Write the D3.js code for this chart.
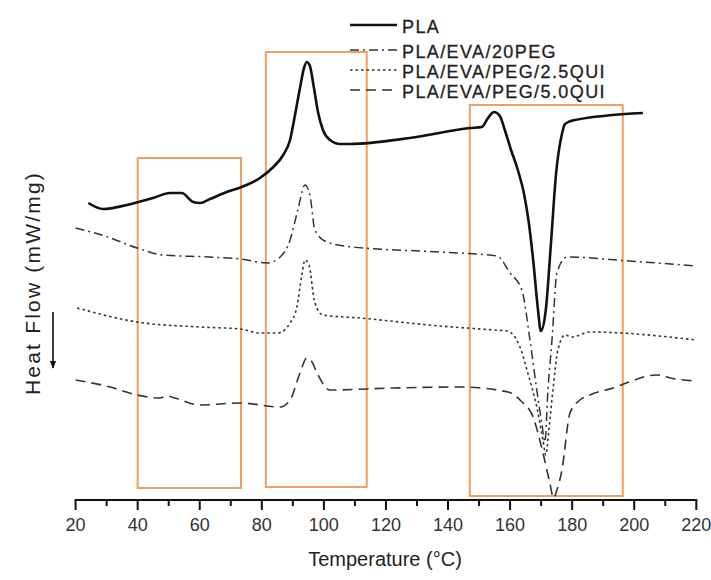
<!DOCTYPE html>
<html><head><meta charset="utf-8">
<script src="https://cdn.jsdelivr.net/npm/d3@7"></script>
<style>
html,body{margin:0;padding:0;background:#fff;}
svg text{font-family:"Liberation Sans",Arial,sans-serif;}
</style></head>
<body><svg id="c" width="711" height="580"></svg>
<script>
// Temperature (°C) and heat flow (arbitrary units, exo up) for each curve
const plaT = [24.1,28.9,36.5,45.0,50.4,54.2,57.9,60.1,63.3,68.7,73.5,79.4,83.7,86.9,89.1,90.7,92.3,93.6,94.5,95.5,96.8,98.1,99.7,102.0,105.2,108.4,127.7,147.1,150.9,152.9,154.8,156.7,158.3,160.3,162.5,164.5,166.0,167.4,169.0,169.9,171.5,173.2,174.8,176.7,177.7,180.9,202.8];
const plaV = [29.7,29.1,29.5,30.2,30.7,30.7,29.8,29.7,30.1,30.8,31.3,32.2,33.3,34.5,36.0,38.5,41.2,43.2,43.8,43.4,41.2,38.8,37.0,36.0,35.6,35.6,36.2,37.2,37.3,38.2,38.8,38.4,37.0,35.0,33.0,30.6,27.8,24.1,19.0,16.9,19.0,25.8,32.6,36.6,37.6,38.0,38.7];

const pegT = [20.0,29.5,39.8,48.2,63.3,73.0,81.7,85.9,89.1,91.6,93.9,95.5,97.1,101.0,109.4,137.4,155.8,160.0,163.8,166.4,168.6,170.3,171.2,172.2,173.5,175.1,178.3,198.3,220.0];
const pegV = [27.2,26.4,25.2,24.5,24.3,24.1,23.7,24.3,26.0,29.0,31.5,30.5,27.0,25.8,25.3,24.8,24.4,22.7,21.0,16.0,11.0,7.5,5.8,11.0,16.0,22.7,24.3,23.9,23.4];

const qui25T = [20.5,39.8,60.1,73.0,79.4,85.2,89.1,91.3,92.9,93.9,95.2,97.1,99.7,111.6,137.4,154.8,159.0,163.2,165.7,168.6,170.6,171.5,172.5,173.8,175.4,177.7,179.9,185.7,220.0];
const qui25V = [19.2,17.8,17.3,17.1,16.7,16.7,17.7,19.3,22.5,24.0,23.5,19.7,18.5,18.2,17.4,17.0,16.9,15.3,12.7,9.3,6.0,4.5,7.0,11.0,15.0,16.5,16.3,16.8,16.0];

const qui50T = [20.0,31.1,39.8,47.2,49.4,52.0,60.1,73.0,85.9,89.1,92.3,94.5,96.2,97.8,102.0,122.3,143.8,159.3,163.5,167.4,170.6,172.8,174.0,175.1,176.7,179.3,182.5,185.7,194.1,198.3,207.0,213.4,220.0];
const qui50V = [12.0,11.3,10.5,10.2,10.4,10.2,9.5,9.7,9.3,10.0,12.7,14.2,13.8,12.7,11.0,11.2,11.3,10.8,9.9,8.3,4.7,1.7,0.2,1.0,3.0,8.7,10.0,10.5,11.3,11.8,12.5,12.1,11.9];

const seriesNames = ["PLA","PLA/EVA/20PEG","PLA/EVA/PEG/2.5QUI","PLA/EVA/PEG/5.0QUI"];
// highlight boxes: [Tmin, Tmax, Vmin, Vmax]
const boxT0 = [40, 81.3, 147];
const boxT1 = [73.3, 113.8, 196.3];
const boxV0 = [1.2, 1.3, 0.4];
const boxV1 = [34.2, 44.8, 39.5];
const xTicks = [20,40,60,80,100,120,140,160,180,200,220];
const xMinor = [30,50,70,90,110,130,150,170,190,210];

const svg = d3.select("#c");
const x = d3.scaleLinear().domain([20,220]).range([75.6,696.3]);
const y = d3.scaleLinear().domain([0,50]).range([500,0]);

const styles = [
  {w:2.6, dash:null, c:"#111"},
  {w:1.5, dash:"9,4,2,4", c:"#333"},
  {w:1.6, dash:"2.5,3", c:"#333"},
  {w:1.6, dash:"10,6", c:"#333"}
];
const data = [[plaT,plaV],[pegT,pegV],[qui25T,qui25V],[qui50T,qui50V]];

// boxes
const boxG = svg.append("g");
boxT0.forEach((t0,i)=>{
  boxG.append("rect")
    .attr("x", x(t0)).attr("y", y(boxV1[i]))
    .attr("width", x(boxT1[i]) - x(t0)).attr("height", y(boxV0[i]) - y(boxV1[i]))
    .attr("fill","none").attr("stroke","#ef9f66").attr("stroke-width",2);
});

// curves
const line = d3.line().x(d=>x(d[0])).y(d=>y(d[1])).curve(d3.curveMonotoneX);
data.forEach((s,i)=>{
  const pts = s[0].map((t,j)=>[t,s[1][j]]);
  svg.append("path").attr("d", line(pts)).attr("fill","none")
    .attr("stroke", styles[i].c).attr("stroke-width", styles[i].w)
    .attr("stroke-dasharray", styles[i].dash).attr("stroke-linejoin","round");
});

// x axis
const ax = svg.append("g").attr("transform","translate(0,500)");
ax.append("line").attr("x1",x(20)-1).attr("x2",x(220)+1).attr("stroke","#111").attr("stroke-width",2.2);
ax.selectAll(".maj").data(xTicks).enter().append("line")
  .attr("x1",d=>x(d)).attr("x2",d=>x(d)).attr("y1",0).attr("y2",10).attr("stroke","#111").attr("stroke-width",2);
ax.selectAll(".min").data(xMinor).enter().append("line")
  .attr("x1",d=>x(d)).attr("x2",d=>x(d)).attr("y1",0).attr("y2",6).attr("stroke","#111").attr("stroke-width",2);
ax.selectAll(".lab").data(xTicks).enter().append("text")
  .attr("x",d=>x(d)).attr("y",31).attr("text-anchor","middle")
  .attr("font-size",18).attr("fill","#333").text(d=>d);
svg.append("text").attr("x",385).attr("y",566).attr("text-anchor","middle")
  .attr("font-size",20).attr("fill","#222").text("Temperature (°C)");

// y label + arrow
svg.append("text").attr("transform","translate(40,283) rotate(-90)")
  .attr("text-anchor","middle").attr("font-size",21).attr("letter-spacing",2.2)
  .attr("fill","#222").text("Heat Flow (mW/mg)");
svg.append("defs").append("marker").attr("id","ah").attr("viewBox","0 0 10 10")
  .attr("refX",9).attr("refY",5).attr("markerWidth",5).attr("markerHeight",7).attr("orient","auto")
  .append("path").attr("d","M0,1 L10,5 L0,9 Z").attr("fill","#111");
svg.append("line").attr("x1",53).attr("x2",53).attr("y1",312).attr("y2",368)
  .attr("stroke","#111").attr("stroke-width",1.6).attr("marker-end","url(#ah)");

// legend
const legY = [25, 50, 70, 90];
seriesNames.forEach((n,i)=>{
  svg.append("line").attr("x1",350).attr("x2",397).attr("y1",legY[i]).attr("y2",legY[i])
    .attr("stroke",styles[i].c).attr("stroke-width",styles[i].w).attr("stroke-dasharray",styles[i].dash);
  svg.append("text").attr("x",402).attr("y",legY[i]+2).attr("dominant-baseline","central")
    .attr("font-size",18).attr("letter-spacing",1.4).attr("fill","#222")
    .attr("stroke","#222").attr("stroke-width",0.3).text(n);
});
</script></body></html>
